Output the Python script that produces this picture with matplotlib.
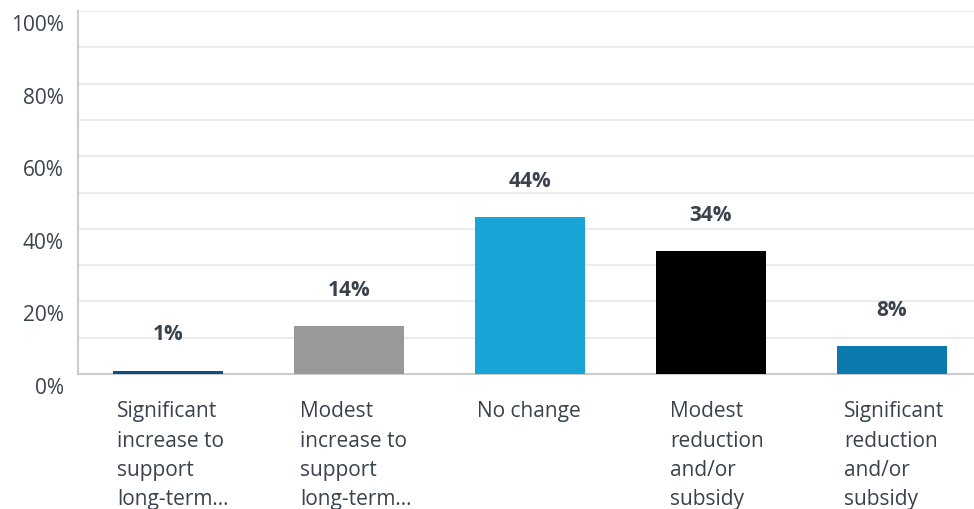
import matplotlib.pyplot as plt
import matplotlib.transforms as mtransforms
import numpy as np

# data
categories = ["Significant\nincrease to\nsupport\nlong-term...",
              "Modest\nincrease to\nsupport\nlong-term...",
              "No change",
              "Modest\nreduction\nand/or\nsubsidy",
              "Significant\nreduction\nand/or\nsubsidy"]
heights = [0.9, 13.2, 43.2, 33.8, 7.7]      # bar heights as drawn
labels = ["1%", "14%", "44%", "34%", "8%"]  # value labels as printed
colors = ["#0b4f8a", "#999999", "#19a4d8", "#000000", "#0b78ae"]
yticks = [0, 20, 40, 60, 80, 100]
label_dx = [4, 6, 2, 14, 7]  # px shift of category text from bar edge

text_col = "#3a424d"
plt.rcParams['font.family'] = ['Open Sans', 'DejaVu Sans']

fig = plt.figure(figsize=(9.74, 5.10), dpi=100)
# axes: x from 77.5 to 982.5 px, y from 375 (0%) to 12 (100%)
ax = fig.add_axes([77.5/974, (510-375)/510, 905/974, 363/510])

x = np.arange(len(heights))
bw = 0.61
ax.bar(x, heights, width=bw, color=colors, zorder=3)

for xi, h, lab in zip(x, heights, labels):
    ax.annotate(lab, (xi, h), xytext=(0, 26.5), textcoords='offset points',
                ha='center', va='center', fontsize=15, fontweight='bold', color=text_col)

ax.set_xlim(-0.5, len(heights) - 0.5)
ax.set_ylim(0, 100)
ax.set_yticks(yticks)
ax.set_yticklabels([f"{t}%" for t in yticks], fontsize=15, color=text_col)
ax.set_yticks(np.arange(0, 101, 10), minor=True)
ax.tick_params(axis='y', which='both', length=0, pad=10)
ax.grid(axis='y', which='both', color='#ebebeb', linewidth=1.5, zorder=0)

offset = mtransforms.ScaledTranslation(0, -11/100, fig.dpi_scale_trans)
for lab in ax.get_yticklabels():
    lab.set_transform(lab.get_transform() + offset)

ax.set_xticks([])
for xi, c, dx in zip(x, categories, label_dx):
    tr = ax.transData + mtransforms.ScaledTranslation(dx/100, 0, fig.dpi_scale_trans)
    ax.text(xi - bw/2, -7.3, c, ha='left', va='top', fontsize=15,
            color=text_col, linespacing=1.52, transform=tr)

for s in ['top', 'right']:
    ax.spines[s].set_visible(False)
ax.spines['left'].set_color('#cccccc')
ax.spines['left'].set_linewidth(1.5)
ax.spines['bottom'].set_color('#cccccc')
ax.spines['bottom'].set_linewidth(1.5)

fig.savefig("out.png", dpi=100)
